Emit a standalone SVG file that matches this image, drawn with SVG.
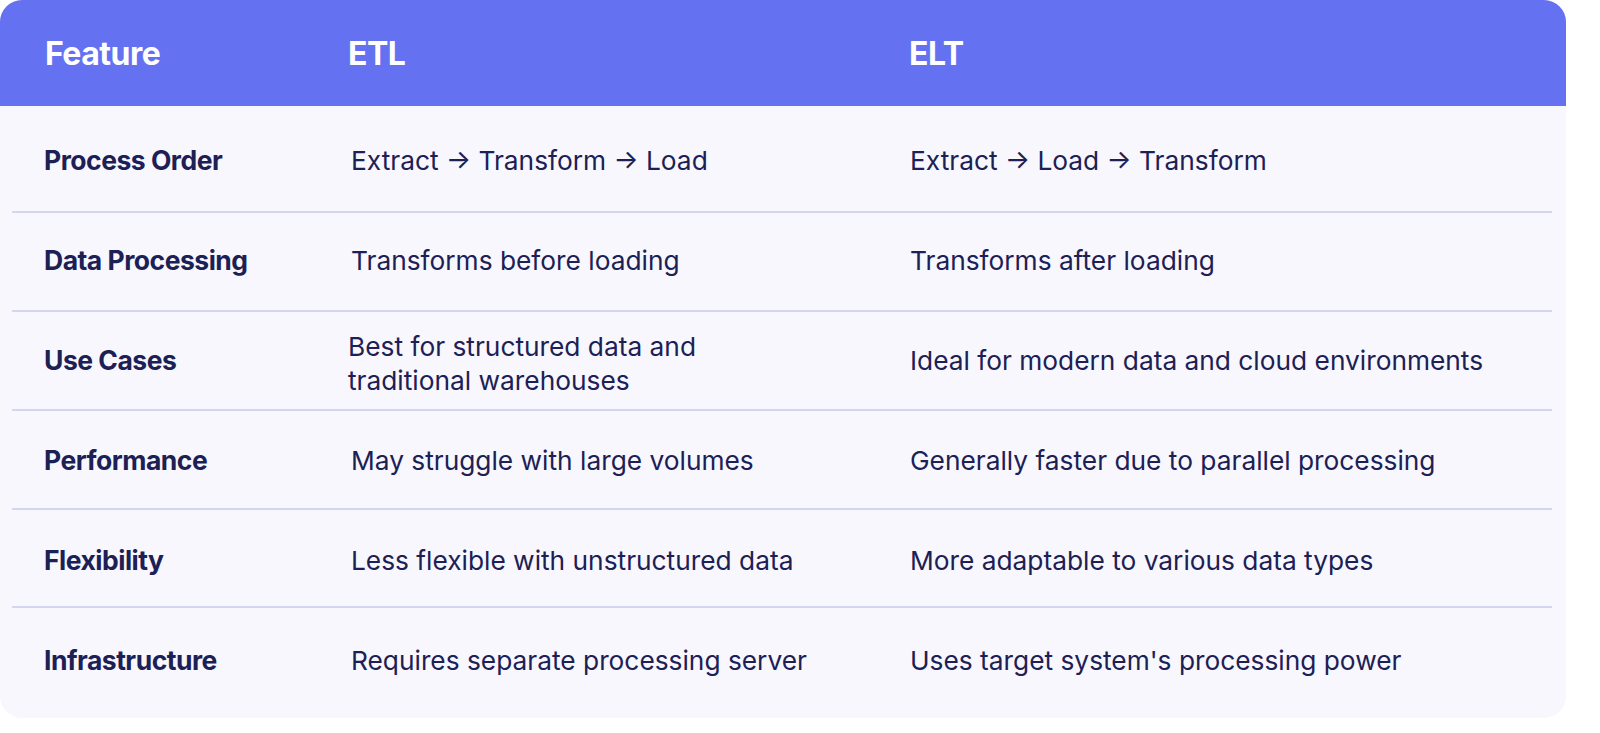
<svg xmlns="http://www.w3.org/2000/svg" width="1600" height="733" viewBox="0 0 1600 733">
<style>
.h{font-family:Inter,"Liberation Sans",sans-serif;font-size:32px;font-weight:700;fill:#fff;letter-spacing:-0.5px}
.k{font-family:Inter,"Liberation Sans",sans-serif;font-size:26.5px;font-weight:700;fill:#1d2054;letter-spacing:-0.5px}
.v{font-family:Inter,"Liberation Sans",sans-serif;font-size:26.3px;fill:#1d2054}
.d{stroke:#c9cbea;stroke-width:1.5}
</style>
<rect width="1600" height="733" fill="#ffffff"/>
<g id="card">
<rect x="0" y="0" width="1566" height="718" rx="22" fill="#f7f7fd"/>
<path d="M0 22 A22 22 0 0 1 22 0 H1544 A22 22 0 0 1 1566 22 V106 H0 Z" fill="#6471f1"/>
</g>
<g id="header">
<text class="h" x="45" y="65">Feature</text>
<text class="h" x="348" y="65">ETL</text>
<text class="h" x="909" y="65">ELT</text>
</g>
<g id="connectors">
<line class="d" x1="12" y1="212" x2="1552" y2="212"/>
<line class="d" x1="12" y1="311" x2="1552" y2="311"/>
<line class="d" x1="12" y1="410" x2="1552" y2="410"/>
<line class="d" x1="12" y1="509" x2="1552" y2="509"/>
<line class="d" x1="12" y1="607" x2="1552" y2="607"/>
</g>
<g id="row1"><text class="k" x="44" y="170">Process Order</text><text class="v" x="351" y="170">Extract → Transform → Load</text><text class="v" x="910" y="170">Extract → Load → Transform</text></g>
<g id="row2"><text class="k" x="44" y="270">Data Processing</text><text class="v" x="351" y="270">Transforms before loading</text><text class="v" x="910" y="270">Transforms after loading</text></g>
<g id="row3"><text class="k" x="44" y="370">Use Cases</text><text class="v" x="348" y="356">Best for structured data and</text><text class="v" x="348" y="390">traditional warehouses</text><text class="v" x="910" y="370">Ideal for modern data and cloud environments</text></g>
<g id="row4"><text class="k" x="44" y="470">Performance</text><text class="v" x="351" y="470">May struggle with large volumes</text><text class="v" x="910" y="470">Generally faster due to parallel processing</text></g>
<g id="row5"><text class="k" x="44" y="570">Flexibility</text><text class="v" x="351" y="570">Less flexible with unstructured data</text><text class="v" x="910" y="570">More adaptable to various data types</text></g>
<g id="row6"><text class="k" x="44" y="670">Infrastructure</text><text class="v" x="351" y="670">Requires separate processing server</text><text class="v" x="910" y="670">Uses target system's processing power</text></g>
</svg>
